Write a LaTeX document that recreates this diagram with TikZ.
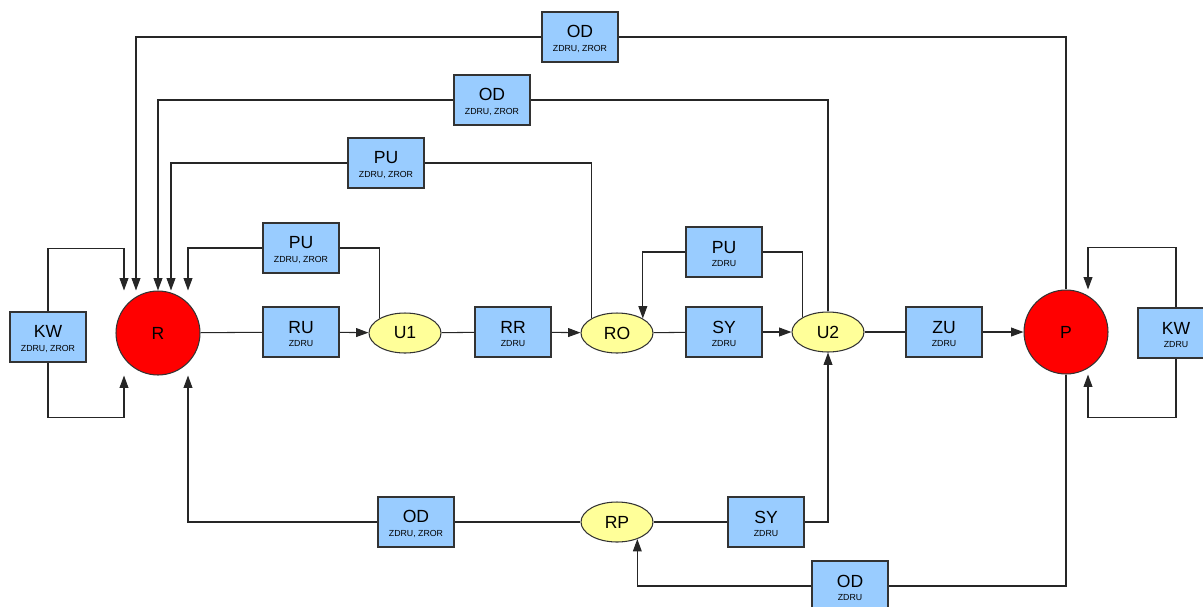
\documentclass[tikz,border=0pt]{standalone}
\usepackage{fontspec}
\setmainfont{Liberation Sans}
\usetikzlibrary{arrows.meta,calc,shapes.geometric}

\definecolor{boxblue}{HTML}{99CCFF}
\definecolor{junctyellow}{HTML}{FFFF99}

\newcommand{\blabel}[2]{\rule{0pt}{9.3pt}#1\\[-3.3pt]{\fontsize{5}{6}\selectfont #2}}

\tikzset{
    blk/.style={draw=black!80, fill=boxblue, minimum width=1.52cm, minimum height=1cm,
        inner sep=0pt, align=center, font=\fontsize{10}{11}\selectfont},
    state/.style={circle, draw=black!80, fill=red, minimum size=1.68cm,
        inner sep=0pt, font=\fontsize{10}{11}\selectfont},
    junct/.style={ellipse, draw=black!80, fill=junctyellow, minimum width=1.44cm,
        minimum height=0.8cm, inner sep=0pt, font=\fontsize{10}{11}\selectfont},
    arr/.style={-{Triangle[length=7pt,width=5pt]}}
}

\begin{document}
\begin{tikzpicture}[x=0.02cm, y=-0.02cm, line width=0.6pt, draw=black!85]

    \useasboundingbox (0,0) rectangle (1203,606);

    % states
    \node[state] (R) at (158,333) {R};
    \node[state] (P) at (1066,332) {P};

    % main row
    \node[blk] (kwL) at (48,337) {\blabel{KW}{ZDRU, ZROR}};
    \node[blk] (ru) at (301,332) {\blabel{RU}{ZDRU}};
    \node[junct] (u1) at (405,333) {U1};
    \node[blk] (rr) at (513,332) {\blabel{RR}{ZDRU}};
    \node[junct] (ro) at (617,333) {RO};
    \node[blk] (sy) at (724,332) {\blabel{SY}{ZDRU}};
    \node[junct] (u2) at (828,332) {U2};
    \node[blk] (zu) at (944,332) {\blabel{ZU}{ZDRU}};
    \node[blk] (kwR) at (1176,333) {\blabel{KW}{ZDRU}};

    % upper boxes
    \node[blk] (odA) at (580,37) {\blabel{OD}{ZDRU, ZROR}};
    \node[blk] (odB) at (492,100) {\blabel{OD}{ZDRU, ZROR}};
    \node[blk] (puB) at (386,163) {\blabel{PU}{ZDRU, ZROR}};
    \node[blk] (puA) at (301,248) {\blabel{PU}{ZDRU, ZROR}};
    \node[blk] (puC) at (724,252) {\blabel{PU}{ZDRU}};

    % lower boxes
    \node[blk] (odC) at (416,522) {\blabel{OD}{ZDRU, ZROR}};
    \node[junct] (rp) at (617,522) {RP};
    \node[blk] (syB) at (766,522) {\blabel{SY}{ZDRU}};
    \node[blk] (odD) at (850,586) {\blabel{OD}{ZDRU}};

    % main row
    \draw (R) -- (ru);
    \draw[arr] (ru) -- (u1);
    \draw (u1) -- (rr);
    \draw[arr] (rr) -- (ro);
    \draw (ro) -- (sy);
    \draw[arr] (sy) -- (u2);
    \draw (u2) -- (zu);
    \draw[arr] (zu) -- (P);

    % back to R, above
    \draw (u1.north west) |- (puA.east);
    \draw[arr] (puA.west) -| ($(R.north)+(30,0)$);
    \draw (ro.north west) |- (puB.east);
    \draw[arr] (puB.west) -| ($(R.north)+(13,0)$);
    \draw (u2.north) |- (odB.east);
    \draw[arr] (odB.west) -| (R.north);
    \draw (P.north) |- (odA.east);
    \draw[arr] (odA.west) -| ($(R.north)+(-22,0)$);
    \draw (u2.north west) |- (puC.east);
    \draw[arr] (puC.west) -| (ro.north east);

    % KW loops
    \draw[arr] (kwL.north) -- ++(0,-63) -| ($(R.north)+(-34,0)$);
    \draw[arr] (kwL.south) -- ++(0,55) -| ($(R.south)+(-34,0)$);
    \draw[arr] (kwR.north) -- ++(0,-60) -| ($(P.north)+(22,0)$);
    \draw[arr] (kwR.south) -- ++(0,59) -| ($(P.south)+(22,0)$);

    % below
    \draw[arr] (odC.west) -| ($(R.south)+(30,0)$);
    \draw (odC) -- (rp);
    \draw (rp) -- (syB);
    \draw[arr] (syB.east) -| (u2.south);
    \draw (P.south) |- (odD.east);
    \draw[arr] (odD.west) -| (rp.-40);
\end{tikzpicture}
\end{document}
